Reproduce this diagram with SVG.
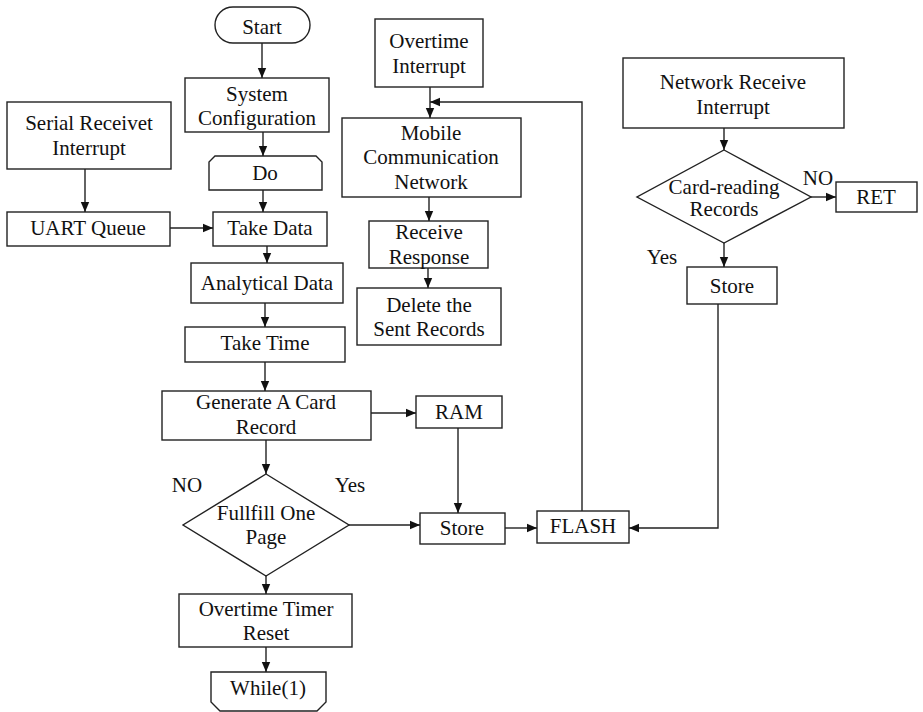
<svg xmlns="http://www.w3.org/2000/svg" width="923" height="712" viewBox="0 0 923 712">
  <style>
    .box { fill: #ffffff; stroke: #222222; stroke-width: 1.4; }
    .lbl { font-family: "Liberation Serif", "Times New Roman", serif; font-size: 21px; fill: #111111; text-anchor: middle; }
    .edge { fill: none; stroke: #222222; stroke-width: 1.4; marker-end: url(#arrow); }
  </style>
  <defs>
    <marker id="arrow" viewBox="0 0 10 10" refX="10" refY="5" markerWidth="10" markerHeight="10" markerUnits="userSpaceOnUse" orient="auto">
      <path d="M0,0.8 L10,5 L0,9.2 Z" fill="#111111"/>
    </marker>
  </defs>
  <rect width="923" height="712" fill="#ffffff"/>

  <!-- main loop column -->
  <g id="start">
    <rect class="box" x="215" y="7" width="95" height="36" rx="18" ry="18"/>
    <text class="lbl" x="262" y="34">Start</text>
  </g>
  <g id="system-configuration">
    <rect class="box" x="185" y="78" width="144" height="54"/>
    <text class="lbl" x="257" y="101">System</text>
    <text class="lbl" x="257" y="125">Configuration</text>
  </g>
  <g id="do">
    <path class="box" d="M209,190 L209,162 L215,156 L316,156 L322,162 L322,190 Z"/>
    <text class="lbl" x="265" y="180">Do</text>
  </g>
  <g id="serial-interrupt">
    <rect class="box" x="7" y="102" width="164" height="67"/>
    <text class="lbl" x="89" y="130">Serial Receivet</text>
    <text class="lbl" x="89" y="155">Interrupt</text>
  </g>
  <g id="uart-queue">
    <rect class="box" x="7" y="212" width="163" height="34"/>
    <text class="lbl" x="88" y="235">UART Queue</text>
  </g>
  <g id="take-data">
    <rect class="box" x="213" y="212" width="114" height="34"/>
    <text class="lbl" x="270" y="235">Take Data</text>
  </g>
  <g id="analytical-data">
    <rect class="box" x="191" y="263" width="152" height="40"/>
    <text class="lbl" x="267" y="290">Analytical Data</text>
  </g>
  <g id="take-time">
    <rect class="box" x="185" y="327" width="160" height="35"/>
    <text class="lbl" x="265" y="350">Take Time</text>
  </g>
  <g id="generate-record">
    <rect class="box" x="162" y="391" width="209" height="49"/>
    <text class="lbl" x="266" y="409">Generate A Card</text>
    <text class="lbl" x="266" y="434">Record</text>
  </g>
  <g id="fullfill-page">
    <path class="box" d="M266,474 L349,525 L266,576 L183,525 Z"/>
    <text class="lbl" x="266" y="520">Fullfill One</text>
    <text class="lbl" x="266" y="544">Page</text>
  </g>
  <g id="timer-reset">
    <rect class="box" x="179" y="594" width="173" height="53"/>
    <text class="lbl" x="266" y="616">Overtime Timer</text>
    <text class="lbl" x="266" y="640">Reset</text>
  </g>
  <g id="while">
    <path class="box" d="M211,672 L326,672 L326,702 L317,711 L220,711 L211,702 Z"/>
    <text class="lbl" x="268" y="695">While(1)</text>
  </g>

  <!-- storage -->
  <g id="ram">
    <rect class="box" x="416" y="396" width="86" height="32"/>
    <text class="lbl" x="459" y="419">RAM</text>
  </g>
  <g id="store">
    <rect class="box" x="420" y="513" width="85" height="31"/>
    <text class="lbl" x="462" y="535">Store</text>
  </g>
  <g id="flash">
    <rect class="box" x="537" y="511" width="92" height="32"/>
    <text class="lbl" x="583" y="533">FLASH</text>
  </g>

  <!-- overtime interrupt branch -->
  <g id="overtime-interrupt">
    <rect class="box" x="375" y="19" width="108" height="68"/>
    <text class="lbl" x="429" y="48">Overtime</text>
    <text class="lbl" x="429" y="73">Interrupt</text>
  </g>
  <g id="mobile-network">
    <rect class="box" x="342" y="118" width="179" height="79"/>
    <text class="lbl" x="431" y="140">Mobile</text>
    <text class="lbl" x="431" y="164">Communication</text>
    <text class="lbl" x="431" y="189">Network</text>
  </g>
  <g id="receive-response">
    <rect class="box" x="369" y="221" width="119" height="47"/>
    <text class="lbl" x="429" y="239">Receive</text>
    <text class="lbl" x="429" y="264">Response</text>
  </g>
  <g id="delete-records">
    <rect class="box" x="357" y="288" width="144" height="57"/>
    <text class="lbl" x="429" y="312">Delete the</text>
    <text class="lbl" x="429" y="336">Sent Records</text>
  </g>

  <!-- network receive branch -->
  <g id="network-interrupt">
    <rect class="box" x="623" y="58" width="221" height="70"/>
    <text class="lbl" x="733" y="89">Network Receive</text>
    <text class="lbl" x="733" y="114">Interrupt</text>
  </g>
  <g id="card-records">
    <path class="box" d="M724,150 L811,197 L724,243 L637,197 Z"/>
    <text class="lbl" x="724" y="194">Card-reading</text>
    <text class="lbl" x="724" y="216">Records</text>
  </g>
  <g id="ret">
    <rect class="box" x="836" y="182" width="81" height="30"/>
    <text class="lbl" x="876" y="204">RET</text>
  </g>
  <g id="store-right">
    <rect class="box" x="687" y="267" width="90" height="37"/>
    <text class="lbl" x="732" y="293">Store</text>
  </g>

  <!-- branch labels -->
  <g id="branch-labels">
    <text class="lbl" x="187" y="492">NO</text>
    <text class="lbl" x="350" y="492">Yes</text>
    <text class="lbl" x="818" y="185">NO</text>
    <text class="lbl" x="662" y="264">Yes</text>
  </g>

  <!-- connectors -->
  <g id="connectors">
    <path class="edge" d="M262,43 L262,78"/>
    <path class="edge" d="M263,132 L263,156"/>
    <path class="edge" d="M263,190 L263,212"/>
    <path class="edge" d="M85,169 L85,212"/>
    <path class="edge" d="M170,228 L213,228"/>
    <path class="edge" d="M267,246 L267,263"/>
    <path class="edge" d="M265,303 L265,327"/>
    <path class="edge" d="M265,362 L265,391"/>
    <path class="edge" d="M266,440 L266,474"/>
    <path class="edge" d="M371,413 L416,413"/>
    <path class="edge" d="M458,428 L458,513"/>
    <path class="edge" d="M349,525 L420,525"/>
    <path class="edge" d="M505,528 L537,528"/>
    <path class="edge" d="M266,576 L266,594"/>
    <path class="edge" d="M266,647 L266,672"/>
    <path class="edge" d="M582,511 L582,102 L430,102"/>
    <path class="edge" d="M430,87 L430,118"/>
    <path class="edge" d="M429,197 L429,221"/>
    <path class="edge" d="M428,268 L428,288"/>
    <path class="edge" d="M724,128 L724,150"/>
    <path class="edge" d="M811,197 L836,197"/>
    <path class="edge" d="M724,243 L724,267"/>
    <path class="edge" d="M718,304 L718,528 L629,528"/>
  </g>
</svg>
